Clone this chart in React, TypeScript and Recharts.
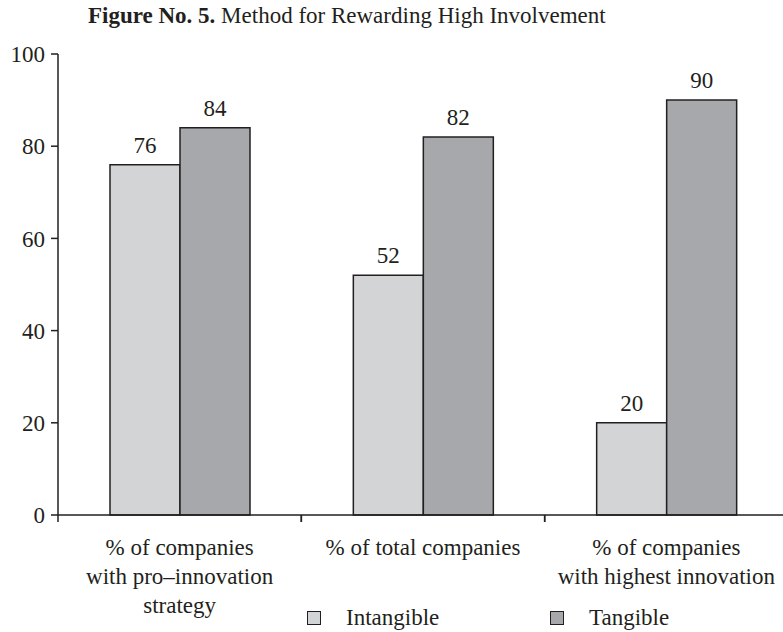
import React from "react";
import { BarChart, Bar, XAxis, YAxis, LabelList } from "recharts";

const CATEGORIES = [
  "% of companies|with pro–innovation|strategy",
  "% of total companies",
  "% of companies|with highest innovation",
];
const INTANGIBLE = [76, 52, 20];
const TANGIBLE = [84, 82, 90];
const Y_TICKS = [0, 20, 40, 60, 80, 100];

const FONT = "'Liberation Serif', 'DejaVu Serif', serif";
const INK = "#231f20";
const LIGHT = "#d3d4d6";
const DARK = "#a7a8ab";

const data = CATEGORIES.map((name, i) => ({
  name,
  intangible: INTANGIBLE[i],
  tangible: TANGIBLE[i],
}));

// category label plus tick marks on the edges of its band
function CategoryTick({ x, y, payload, width, visibleTicksCount }: any) {
  const lines = String(payload.value).split("|");
  const half = width / visibleTicksCount / 2;
  const axisY = y - 8; // tickSize 6 + tickMargin 2
  return (
    <g>
      <line x1={x - half} x2={x - half} y1={axisY} y2={axisY + 7} stroke={INK} strokeWidth={1.5} />
      <line x1={x + half} x2={x + half} y1={axisY} y2={axisY + 7} stroke={INK} strokeWidth={1.5} />
      <text x={x} y={y} textAnchor="middle" fill={INK} fontFamily={FONT} fontSize={23}>
        {lines.map((l, i) => (
          <tspan key={i} x={x} dy={i === 0 ? 32 : 29}>
            {l}
          </tspan>
        ))}
      </text>
    </g>
  );
}

function LegendBox() {
  const items = [
    { label: "Intangible", color: LIGHT, left: 307 },
    { label: "Tangible", color: DARK, left: 550 },
  ];
  return (
    <div style={{ position: "absolute", top: 605, left: 0, width: 783, height: 27 }}>
      {items.map((it) => (
        <div key={it.label} style={{ position: "absolute", left: it.left, top: 0, display: "flex", alignItems: "center" }}>
          <div style={{ width: 12, height: 12, background: it.color, border: `1.5px solid ${INK}` }} />
          <span style={{ marginLeft: 25, fontFamily: FONT, fontSize: 23, color: INK }}>{it.label}</span>
        </div>
      ))}
    </div>
  );
}

export default function App() {
  return (
    <div style={{ position: "fixed", left: 0, top: 0, width: 783, height: 632, overflow: "hidden", background: "#fff" }}>
      <BarChart
        width={800}
        height={632}
        data={data}
        margin={{ top: 54, right: 12, bottom: 0, left: 0 }}
        barGap={0}
        barSize={70}
        style={{ position: "absolute", left: 0, top: 0 }}
      >
        <XAxis
          dataKey="name"
          height={117}
          axisLine={{ stroke: INK, strokeWidth: 1.5 }}
          tickLine={false}
          tickSize={6}
          tickMargin={2}
          tick={<CategoryTick />}
          interval={0}
        />
        <YAxis
          domain={[0, 100]}
          ticks={Y_TICKS}
          width={58}
          axisLine={{ stroke: INK, strokeWidth: 1.5 }}
          tickLine={{ stroke: INK, strokeWidth: 1.5 }}
          tickSize={7}
          tickMargin={6}
          tick={{ fill: INK, fontFamily: FONT, fontSize: 23 }}
        />
        <Bar dataKey="intangible" name="Intangible" fill={LIGHT} stroke={INK} strokeWidth={1.5} isAnimationActive={false}>
          <LabelList dataKey="intangible" position="top" offset={12} fill={INK} fontFamily={FONT} fontSize={23} />
        </Bar>
        <Bar dataKey="tangible" name="Tangible" fill={DARK} stroke={INK} strokeWidth={1.5} isAnimationActive={false}>
          <LabelList dataKey="tangible" position="top" offset={12} fill={INK} fontFamily={FONT} fontSize={23} />
        </Bar>
      </BarChart>
      <div style={{ position: "absolute", left: 88, top: 3, fontFamily: FONT, fontSize: 23, color: INK, whiteSpace: "nowrap" }}>
        <b>Figure No. 5.</b> Method for Rewarding High Involvement
      </div>
      <LegendBox />
    </div>
  );
}
